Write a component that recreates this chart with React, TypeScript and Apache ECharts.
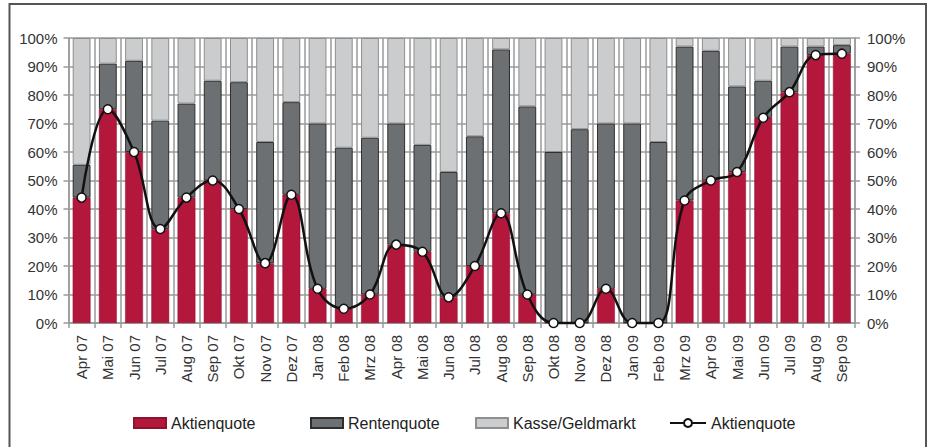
import React, { useEffect, useRef } from "react";
import * as echarts from "echarts";

const categories = [
  "Apr 07", "Mai 07", "Jun 07", "Jul 07", "Aug 07", "Sep 07", "Okt 07", "Nov 07", "Dez 07",
  "Jan 08", "Feb 08", "Mrz 08", "Apr 08", "Mai 08", "Jun 08", "Jul 08", "Aug 08", "Sep 08",
  "Okt 08", "Nov 08", "Dez 08", "Jan 09", "Feb 09", "Mrz 09", "Apr 09", "Mai 09", "Jun 09",
  "Jul 09", "Aug 09", "Sep 09",
];

const aktienquote = [44, 75, 60, 33, 44, 50, 40, 21, 45, 12, 5, 10, 27.5, 25, 9, 20, 38.5, 10, 0, 0, 12, 0, 0, 43, 50, 53, 72, 81, 94, 94.5];
const rentenquote = [11.5, 16, 32, 38, 33, 35, 44.5, 42.5, 32.5, 58, 56.5, 55, 42.5, 37.5, 44, 45.5, 57.5, 66, 60, 68, 58, 70, 63.5, 54, 45.5, 30, 13, 16, 3, 3];
const kasse = [44.5, 9, 8, 29, 23, 15, 15.5, 36.5, 22.5, 30, 38.5, 35, 30, 37.5, 47, 34.5, 4, 24, 40, 32, 30, 30, 36.5, 3, 4.5, 17, 15, 3, 3, 2.5];

const yTicks = { min: 0, max: 100, interval: 10 };

const FONT = "'Liberation Sans', Arial, Helvetica, sans-serif";
const TEXT = "#333333";
const GRID = "#9a9a9a";

export default function App() {
  const ref = useRef<HTMLDivElement>(null);

  useEffect(() => {
    if (!ref.current) return;
    const chart = echarts.init(ref.current, undefined, { renderer: "svg" });
    const yAxisBase = {
      type: "value",
      min: yTicks.min,
      max: yTicks.max,
      interval: yTicks.interval,
      axisLine: { show: true, lineStyle: { color: GRID, width: 1.5 } },
      axisTick: { show: true, length: 5, lineStyle: { color: GRID, width: 1.5 } },
      axisLabel: { formatter: "{value}%", fontSize: 15, color: TEXT, fontFamily: FONT },
    };
    const legendCommon = {
      top: 410,
      itemWidth: 32,
      itemHeight: 10,
      textStyle: { fontSize: 16, color: "#222", fontFamily: FONT },
      formatter: (n: string) => (n.startsWith("Aktienquote") ? "Aktienquote" : n),
      selectedMode: false,
    };
    chart.setOption({
      animation: false,
      backgroundColor: "#ffffff",
      textStyle: { fontFamily: FONT },
      grid: { left: 68.5, right: 78, top: 38, bottom: 124, containLabel: false },
      graphic: [
        {
          type: "rect",
          shape: { x: 9.5, y: 4, width: 916.5, height: 470 },
          style: { fill: "none", stroke: "#555", lineWidth: 2 },
          silent: true,
        },
      ],
      legend: [
        { ...legendCommon, left: 128, data: [{ name: "Aktienquote", icon: "rect" }] },
        { ...legendCommon, left: 305, data: [{ name: "Rentenquote", icon: "rect" }] },
        { ...legendCommon, left: 470, data: [{ name: "Kasse/Geldmarkt", icon: "rect" }] },
        { ...legendCommon, left: 664, itemWidth: 36, data: [{ name: "Aktienquote-Linie" }] },
      ],
      xAxis: {
        type: "category",
        data: categories,
        boundaryGap: true,
        axisLine: { show: true, lineStyle: { color: GRID, width: 1.5 } },
        axisTick: { show: true, interval: 0, length: 5, lineStyle: { color: GRID, width: 1.5 } },
        splitLine: { show: true, interval: 0, lineStyle: { color: GRID, width: 1.5 } },
        axisLabel: { rotate: 90, interval: 0, fontSize: 15, color: TEXT, fontFamily: FONT, margin: 12 },
      },
      yAxis: [
        {
          ...yAxisBase,
          position: "left",
          splitLine: { show: true, lineStyle: { color: GRID, width: 1.5 } },
          axisLabel: { ...yAxisBase.axisLabel, margin: 11 },
        },
        {
          ...yAxisBase,
          position: "right",
          splitLine: { show: false },
          axisLabel: { ...yAxisBase.axisLabel, margin: 12 },
        },
      ],
      series: [
        {
          name: "Aktienquote",
          type: "bar",
          stack: "q",
          data: aktienquote,
          barCategoryGap: "32%",
          itemStyle: { color: "#b3173b", borderColor: "#8c1230", borderWidth: 0.5 },
        },
        {
          name: "Rentenquote",
          type: "bar",
          stack: "q",
          data: rentenquote,
          itemStyle: { color: "#6d7072", borderColor: "#2e2e2e", borderWidth: 1 },
        },
        {
          name: "Kasse/Geldmarkt",
          type: "bar",
          stack: "q",
          data: kasse,
          itemStyle: { color: "#cbcccd", borderColor: "#8e8e8e", borderWidth: 1 },
        },
        {
          name: "Aktienquote-Linie",
          type: "line",
          data: aktienquote,
          smooth: 0.4,
          clip: false,
          z: 5,
          symbol: "circle",
          symbolSize: 9,
          lineStyle: { color: "#111", width: 2.5 },
          itemStyle: { color: "#ffffff", borderColor: "#111", borderWidth: 1.5 },
        },
      ],
    });
    return () => chart.dispose();
  }, []);

  return (
    <div
      ref={ref}
      style={{ position: "absolute", left: 0, top: 0, width: 933, height: 447 }}
    />
  );
}
